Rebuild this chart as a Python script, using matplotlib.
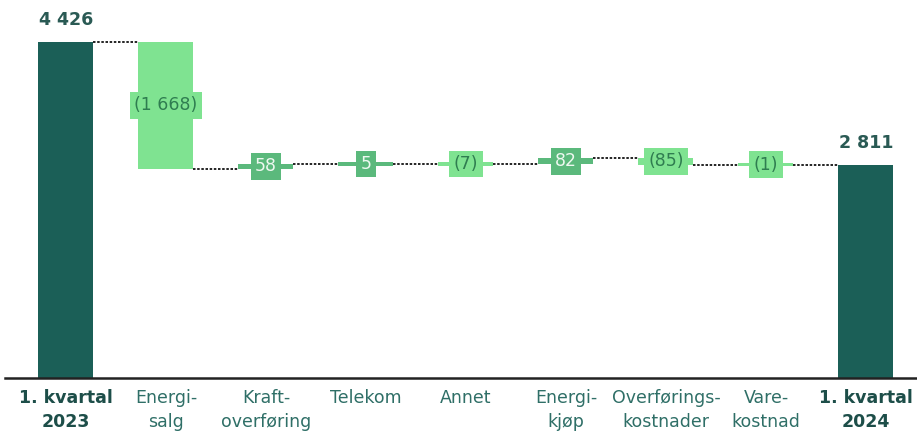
import numpy as np
import matplotlib.pyplot as plt

# data
categories = ['1. kvartal\n2023', 'Energi-\nsalg', 'Kraft-\noverføring', 'Telekom', 'Annet',
              'Energi-\nkjøp', 'Overførings-\nkostnader', 'Vare-\nkostnad', '1. kvartal\n2024']
values = [4426, -1668, 58, 5, -7, 82, -85, -1, 2811]
labels = ['4 426', '(1 668)', '58', '5', '(7)', '82', '(85)', '(1)', '2 811']
is_total = [True, False, False, False, False, False, False, False, True]

dark = '#1b5f57'
neg_col = '#7fe391'
pos_col = '#5bb97c'

plt.rcParams['font.family'] = ['DejaVu Sans']

fig = plt.figure(figsize=(9.17, 4.33), dpi=100)
ax = fig.add_axes([0.005, 55 / 433, 0.995, 1 - 55 / 433])

x = np.arange(len(values))
width = 0.55
min_h = 45  # keep tiny changes visible
running = 0
levels = []
for i, v in enumerate(values):
    if is_total[i]:
        bottom, height = 0, v
        color = dark
        running = v
    else:
        bottom = running + min(v, 0)
        height = abs(v)
        color = pos_col if v > 0 else neg_col
        running += v
    levels.append(running)
    mid = bottom + height / 2
    if height < min_h:
        bottom, height = mid - min_h / 2, min_h
    ax.bar(x[i], height, bottom=bottom, width=width, color=color, linewidth=0)

    if is_total[i]:
        ax.text(x[i], v + 170, labels[i], ha='center', va='bottom', fontsize=12.5,
                fontweight='bold', color='#2a5a54')
    else:
        txt_col = '#eef8f0' if v > 0 else '#2f7d50'
        ax.text(x[i], mid, labels[i], ha='center', va='center', fontsize=12.5, color=txt_col,
                bbox=dict(boxstyle='square,pad=0.25', fc=color, ec='none'), zorder=4)

# connectors
for i in range(len(values) - 1):
    ax.plot([x[i] + width / 2, x[i + 1] - width / 2], [levels[i], levels[i]],
            color='black', lw=1.2, ls=(0, (1.5, 1)), zorder=3)

ax.set_xlim(-0.614, 8.51)
ax.set_ylim(0, 4980)
ax.set_xticks(x)
ax.set_xticklabels(categories, fontsize=12.5, linespacing=1.45)
for t, tot in zip(ax.get_xticklabels(), is_total):
    t.set_verticalalignment('top')
    if tot:
        t.set_fontweight('bold')
        t.set_color('#1d4e49')
    else:
        t.set_color('#2f6f67')
ax.tick_params(axis='x', length=0, pad=8)
ax.set_yticks([])
for s in ['top', 'right', 'left']:
    ax.spines[s].set_visible(False)
ax.spines['bottom'].set_linewidth(1.8)
ax.spines['bottom'].set_color('#222222')

fig.savefig('out.png', dpi=100)
